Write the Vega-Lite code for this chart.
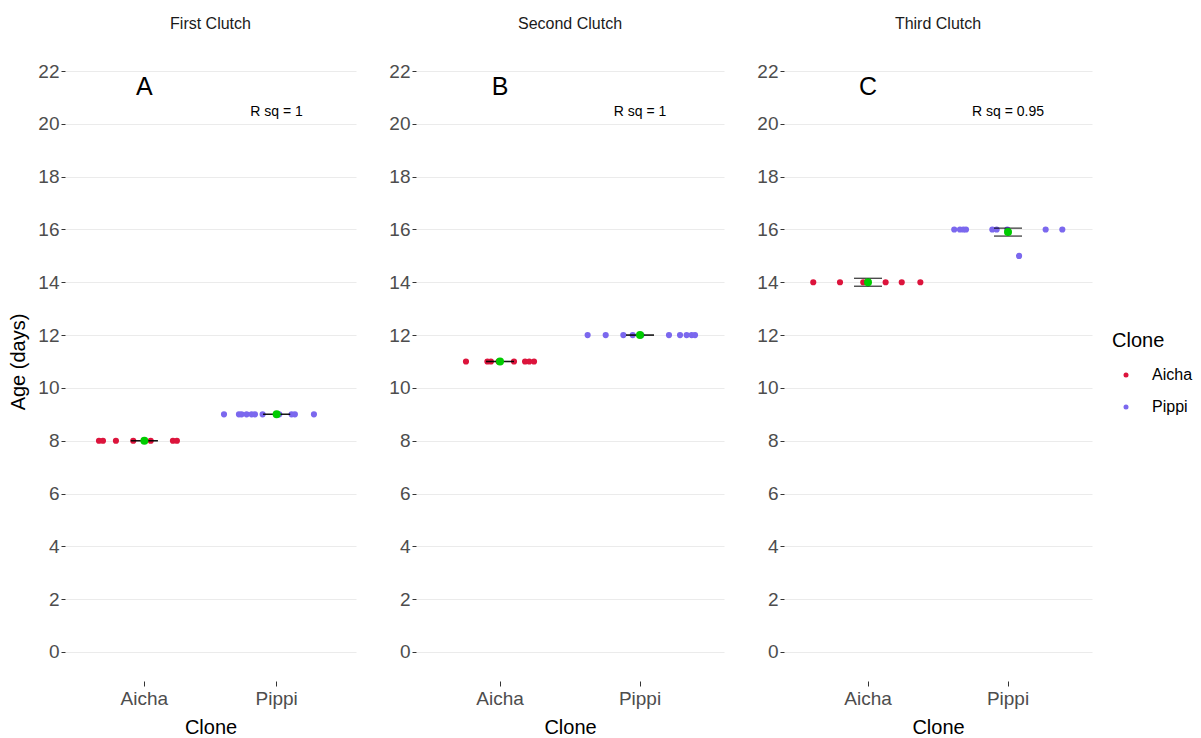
{
  "$schema": "https://vega.github.io/schema/vega-lite/v6.json",
  "padding": {"left": 8, "top": 16, "right": 0, "bottom": 0},
  "background": "white",
  "config": {
    "font": "Liberation Sans",
    "view": {"stroke": null},
    "concat": {"spacing": 32},
    "axisY": {
      "values": [-1,0,1,2,3,4,5,6,7,8,9,10,11,12,13,14,15,16,17,18,19,20,21,22,23],
      "labelExpr": "datum.value % 2 === 0 && datum.value >= 0 ? datum.label : ''",
      "domain": false,
      "grid": true,
      "gridColor": "#EBEBEB",
      "gridWidth": {"condition": {"test": "datum.value % 2 !== 0", "value": 0.7}, "value": 1.1},
      "tickOpacity": {"condition": {"test": "datum.value % 2 !== 0", "value": 0}, "value": 1},
      "tickColor": "#333333",
      "tickSize": 4,
      "labelPadding": 2,
      "labelFontSize": 19,
      "labelColor": "#4D4D4D",
      "labelFont": "Liberation Sans",
      "titleFontSize": 20,
      "titleFontWeight": "normal",
      "titleColor": "#000000",
      "titleFont": "Liberation Sans",
      "titlePadding": 9
    },
    "axisX": {
      "domain": false,
      "grid": false,
      "tickColor": "#333333",
      "tickSize": 5,
      "labelPadding": 3,
      "labelFontSize": 19,
      "labelColor": "#4D4D4D",
      "labelFont": "Liberation Sans",
      "labelAngle": 0,
      "titleFontSize": 20,
      "titleFontWeight": "normal",
      "titleColor": "#000000",
      "titleFont": "Liberation Sans",
      "titlePadding": 9
    },
    "title": {"fontSize": 16, "fontWeight": "normal", "color": "#1A1A1A", "font": "Liberation Sans", "offset": 10}
  },
  "datasets": {
    "pts": [
      {"Clutch": "First Clutch", "Clone": "Aicha", "Age": 8, "jitter": -0.343},
      {"Clutch": "First Clutch", "Clone": "Aicha", "Age": 8, "jitter": -0.313},
      {"Clutch": "First Clutch", "Clone": "Aicha", "Age": 8, "jitter": -0.215},
      {"Clutch": "First Clutch", "Clone": "Aicha", "Age": 8, "jitter": -0.084},
      {"Clutch": "First Clutch", "Clone": "Aicha", "Age": 8, "jitter": 0.0},
      {"Clutch": "First Clutch", "Clone": "Aicha", "Age": 8, "jitter": 0.048},
      {"Clutch": "First Clutch", "Clone": "Aicha", "Age": 8, "jitter": 0.216},
      {"Clutch": "First Clutch", "Clone": "Aicha", "Age": 8, "jitter": 0.246},
      {"Clutch": "First Clutch", "Clone": "Pippi", "Age": 9, "jitter": -0.398},
      {"Clutch": "First Clutch", "Clone": "Pippi", "Age": 9, "jitter": -0.285},
      {"Clutch": "First Clutch", "Clone": "Pippi", "Age": 9, "jitter": -0.265},
      {"Clutch": "First Clutch", "Clone": "Pippi", "Age": 9, "jitter": -0.227},
      {"Clutch": "First Clutch", "Clone": "Pippi", "Age": 9, "jitter": -0.189},
      {"Clutch": "First Clutch", "Clone": "Pippi", "Age": 9, "jitter": -0.164},
      {"Clutch": "First Clutch", "Clone": "Pippi", "Age": 9, "jitter": -0.106},
      {"Clutch": "First Clutch", "Clone": "Pippi", "Age": 9, "jitter": 0.02},
      {"Clutch": "First Clutch", "Clone": "Pippi", "Age": 9, "jitter": 0.113},
      {"Clutch": "First Clutch", "Clone": "Pippi", "Age": 9, "jitter": 0.138},
      {"Clutch": "First Clutch", "Clone": "Pippi", "Age": 9, "jitter": 0.282},
      {"Clutch": "Second Clutch", "Clone": "Aicha", "Age": 11, "jitter": -0.243},
      {"Clutch": "Second Clutch", "Clone": "Aicha", "Age": 11, "jitter": -0.09},
      {"Clutch": "Second Clutch", "Clone": "Aicha", "Age": 11, "jitter": -0.065},
      {"Clutch": "Second Clutch", "Clone": "Aicha", "Age": 11, "jitter": -0.01},
      {"Clutch": "Second Clutch", "Clone": "Aicha", "Age": 11, "jitter": 0.1},
      {"Clutch": "Second Clutch", "Clone": "Aicha", "Age": 11, "jitter": 0.179},
      {"Clutch": "Second Clutch", "Clone": "Aicha", "Age": 11, "jitter": 0.209},
      {"Clutch": "Second Clutch", "Clone": "Aicha", "Age": 11, "jitter": 0.243},
      {"Clutch": "Second Clutch", "Clone": "Pippi", "Age": 12, "jitter": -0.374},
      {"Clutch": "Second Clutch", "Clone": "Pippi", "Age": 12, "jitter": -0.245},
      {"Clutch": "Second Clutch", "Clone": "Pippi", "Age": 12, "jitter": -0.119},
      {"Clutch": "Second Clutch", "Clone": "Pippi", "Age": 12, "jitter": -0.052},
      {"Clutch": "Second Clutch", "Clone": "Pippi", "Age": 12, "jitter": 0.01},
      {"Clutch": "Second Clutch", "Clone": "Pippi", "Age": 12, "jitter": 0.207},
      {"Clutch": "Second Clutch", "Clone": "Pippi", "Age": 12, "jitter": 0.286},
      {"Clutch": "Second Clutch", "Clone": "Pippi", "Age": 12, "jitter": 0.333},
      {"Clutch": "Second Clutch", "Clone": "Pippi", "Age": 12, "jitter": 0.369},
      {"Clutch": "Second Clutch", "Clone": "Pippi", "Age": 12, "jitter": 0.393},
      {"Clutch": "Third Clutch", "Clone": "Aicha", "Age": 14, "jitter": -0.391},
      {"Clutch": "Third Clutch", "Clone": "Aicha", "Age": 14, "jitter": -0.2},
      {"Clutch": "Third Clutch", "Clone": "Aicha", "Age": 14, "jitter": -0.034},
      {"Clutch": "Third Clutch", "Clone": "Aicha", "Age": 14, "jitter": 0.0},
      {"Clutch": "Third Clutch", "Clone": "Aicha", "Age": 14, "jitter": 0.126},
      {"Clutch": "Third Clutch", "Clone": "Aicha", "Age": 14, "jitter": 0.241},
      {"Clutch": "Third Clutch", "Clone": "Aicha", "Age": 14, "jitter": 0.374},
      {"Clutch": "Third Clutch", "Clone": "Pippi", "Age": 16, "jitter": -0.384},
      {"Clutch": "Third Clutch", "Clone": "Pippi", "Age": 16, "jitter": -0.343},
      {"Clutch": "Third Clutch", "Clone": "Pippi", "Age": 16, "jitter": -0.319},
      {"Clutch": "Third Clutch", "Clone": "Pippi", "Age": 16, "jitter": -0.3},
      {"Clutch": "Third Clutch", "Clone": "Pippi", "Age": 16, "jitter": -0.112},
      {"Clutch": "Third Clutch", "Clone": "Pippi", "Age": 16, "jitter": -0.081},
      {"Clutch": "Third Clutch", "Clone": "Pippi", "Age": 16, "jitter": -0.005},
      {"Clutch": "Third Clutch", "Clone": "Pippi", "Age": 15, "jitter": 0.079},
      {"Clutch": "Third Clutch", "Clone": "Pippi", "Age": 16, "jitter": 0.269},
      {"Clutch": "Third Clutch", "Clone": "Pippi", "Age": 16, "jitter": 0.388}
    ],
    "means": [
      {"Clutch": "First Clutch", "Clone": "Aicha", "mean": 8, "lower": 8, "upper": 8},
      {"Clutch": "First Clutch", "Clone": "Pippi", "mean": 9, "lower": 9, "upper": 9},
      {"Clutch": "Second Clutch", "Clone": "Aicha", "mean": 11, "lower": 11, "upper": 11},
      {"Clutch": "Second Clutch", "Clone": "Pippi", "mean": 12, "lower": 12, "upper": 12},
      {"Clutch": "Third Clutch", "Clone": "Aicha", "mean": 14, "lower": 13.85, "upper": 14.15},
      {"Clutch": "Third Clutch", "Clone": "Pippi", "mean": 15.9, "lower": 15.75, "upper": 16.05}
    ],
    "ann": [
      {"Clutch": "First Clutch", "Clone": "Aicha", "y": 21.4, "label": "A", "kind": "letter"},
      {"Clutch": "First Clutch", "Clone": "Pippi", "y": 20.45, "label": "R sq = 1", "kind": "rsq"},
      {"Clutch": "Second Clutch", "Clone": "Aicha", "y": 21.4, "label": "B", "kind": "letter"},
      {"Clutch": "Second Clutch", "Clone": "Pippi", "y": 20.45, "label": "R sq = 1", "kind": "rsq"},
      {"Clutch": "Third Clutch", "Clone": "Aicha", "y": 21.4, "label": "C", "kind": "letter"},
      {"Clutch": "Third Clutch", "Clone": "Pippi", "y": 20.45, "label": "R sq = 0.95", "kind": "rsq"}
    ]
  },
  "resolve": {"scale": {"x": "independent", "y": "independent", "xOffset": "independent"}},
  "hconcat": [
    {
      "title": "First Clutch",
      "width": 291,
      "height": 639,
      "layer": [
        {
          "data": {"name": "pts"},
          "transform": [{"filter": "datum.Clutch === 'First Clutch'"}],
          "mark": {"type": "circle", "size": 38, "opacity": 1},
          "encoding": {
            "x": {"field": "Clone", "type": "nominal", "title": "Clone", "scale": {"domain": ["Aicha", "Pippi"], "paddingInner": 0, "paddingOuter": 0.1}},
            "xOffset": {"field": "jitter", "type": "quantitative", "scale": {"domain": [-0.5, 0.5]}},
            "y": {"field": "Age", "type": "quantitative", "title": "Age (days)", "scale": {"domain": [-1.1, 23.1], "nice": false, "zero": false}},
            "color": {"field": "Clone", "type": "nominal", "scale": {"domain": ["Aicha", "Pippi"], "range": ["#DC143C", "#7B68EE"]},
              "legend": {"title": "Clone", "orient": "none", "legendX": 1047, "legendY": 289, "titleFontSize": 20, "titleFontWeight": "normal", "titleColor": "#000000", "labelFontSize": 16, "labelColor": "#000000", "symbolSize": 25, "symbolType": "circle", "symbolOffset": 6, "rowPadding": 16, "titlePadding": 16, "labelOffset": 18}}
          }
        },
        {
          "data": {"name": "means"},
          "transform": [{"filter": "datum.Clutch === 'First Clutch'"}],
          "mark": {"type": "rule", "color": "#000000", "strokeWidth": 1.4},
          "encoding": {"x": {"field": "Clone", "type": "nominal"}, "y": {"field": "lower", "type": "quantitative"}, "y2": {"field": "upper"}}
        },
        {
          "data": {"name": "means"},
          "transform": [{"filter": "datum.Clutch === 'First Clutch'"}],
          "mark": {"type": "tick", "color": "#000000", "size": 27, "thickness": 1.4},
          "encoding": {"x": {"field": "Clone", "type": "nominal"}, "y": {"field": "lower", "type": "quantitative"}}
        },
        {
          "data": {"name": "means"},
          "transform": [{"filter": "datum.Clutch === 'First Clutch'"}],
          "mark": {"type": "tick", "color": "#000000", "size": 27, "thickness": 1.4},
          "encoding": {"x": {"field": "Clone", "type": "nominal"}, "y": {"field": "upper", "type": "quantitative"}}
        },
        {
          "data": {"name": "means"},
          "transform": [{"filter": "datum.Clutch === 'First Clutch'"}],
          "mark": {"type": "circle", "size": 64, "opacity": 1, "color": "#00CC00"},
          "encoding": {"x": {"field": "Clone", "type": "nominal"}, "y": {"field": "mean", "type": "quantitative"}}
        },
        {
          "data": {"name": "ann"},
          "transform": [{"filter": "datum.Clutch === 'First Clutch' && datum.kind === 'letter'"}],
          "mark": {"type": "text", "fontSize": 25, "color": "#000000", "baseline": "middle"},
          "encoding": {"x": {"field": "Clone", "type": "nominal"}, "y": {"field": "y", "type": "quantitative"}, "text": {"field": "label"}}
        },
        {
          "data": {"name": "ann"},
          "transform": [{"filter": "datum.Clutch === 'First Clutch' && datum.kind === 'rsq'"}],
          "mark": {"type": "text", "fontSize": 14, "color": "#000000", "baseline": "middle"},
          "encoding": {"x": {"field": "Clone", "type": "nominal"}, "y": {"field": "y", "type": "quantitative"}, "text": {"field": "label"}}
        }
      ]
    },
    {
      "title": "Second Clutch",
      "width": 308,
      "height": 639,
      "layer": [
        {
          "data": {"name": "pts"},
          "transform": [{"filter": "datum.Clutch === 'Second Clutch'"}],
          "mark": {"type": "circle", "size": 38, "opacity": 1},
          "encoding": {
            "x": {"field": "Clone", "type": "nominal", "title": "Clone", "scale": {"domain": ["Aicha", "Pippi"], "paddingInner": 0, "paddingOuter": 0.1}},
            "xOffset": {"field": "jitter", "type": "quantitative", "scale": {"domain": [-0.5, 0.5]}},
            "y": {"field": "Age", "type": "quantitative", "title": null, "scale": {"domain": [-1.1, 23.1], "nice": false, "zero": false}},
            "color": {"field": "Clone", "type": "nominal", "scale": {"domain": ["Aicha", "Pippi"], "range": ["#DC143C", "#7B68EE"]}}
          }
        },
        {
          "data": {"name": "means"},
          "transform": [{"filter": "datum.Clutch === 'Second Clutch'"}],
          "mark": {"type": "rule", "color": "#000000", "strokeWidth": 1.4},
          "encoding": {"x": {"field": "Clone", "type": "nominal"}, "y": {"field": "lower", "type": "quantitative"}, "y2": {"field": "upper"}}
        },
        {
          "data": {"name": "means"},
          "transform": [{"filter": "datum.Clutch === 'Second Clutch'"}],
          "mark": {"type": "tick", "color": "#000000", "size": 28, "thickness": 1.4},
          "encoding": {"x": {"field": "Clone", "type": "nominal"}, "y": {"field": "lower", "type": "quantitative"}}
        },
        {
          "data": {"name": "means"},
          "transform": [{"filter": "datum.Clutch === 'Second Clutch'"}],
          "mark": {"type": "tick", "color": "#000000", "size": 28, "thickness": 1.4},
          "encoding": {"x": {"field": "Clone", "type": "nominal"}, "y": {"field": "upper", "type": "quantitative"}}
        },
        {
          "data": {"name": "means"},
          "transform": [{"filter": "datum.Clutch === 'Second Clutch'"}],
          "mark": {"type": "circle", "size": 64, "opacity": 1, "color": "#00CC00"},
          "encoding": {"x": {"field": "Clone", "type": "nominal"}, "y": {"field": "mean", "type": "quantitative"}}
        },
        {
          "data": {"name": "ann"},
          "transform": [{"filter": "datum.Clutch === 'Second Clutch' && datum.kind === 'letter'"}],
          "mark": {"type": "text", "fontSize": 25, "color": "#000000", "baseline": "middle"},
          "encoding": {"x": {"field": "Clone", "type": "nominal"}, "y": {"field": "y", "type": "quantitative"}, "text": {"field": "label"}}
        },
        {
          "data": {"name": "ann"},
          "transform": [{"filter": "datum.Clutch === 'Second Clutch' && datum.kind === 'rsq'"}],
          "mark": {"type": "text", "fontSize": 14, "color": "#000000", "baseline": "middle"},
          "encoding": {"x": {"field": "Clone", "type": "nominal"}, "y": {"field": "y", "type": "quantitative"}, "text": {"field": "label"}}
        }
      ]
    },
    {
      "title": "Third Clutch",
      "width": 308,
      "height": 639,
      "layer": [
        {
          "data": {"name": "pts"},
          "transform": [{"filter": "datum.Clutch === 'Third Clutch'"}],
          "mark": {"type": "circle", "size": 38, "opacity": 1},
          "encoding": {
            "x": {"field": "Clone", "type": "nominal", "title": "Clone", "scale": {"domain": ["Aicha", "Pippi"], "paddingInner": 0, "paddingOuter": 0.1}},
            "xOffset": {"field": "jitter", "type": "quantitative", "scale": {"domain": [-0.5, 0.5]}},
            "y": {"field": "Age", "type": "quantitative", "title": null, "scale": {"domain": [-1.1, 23.1], "nice": false, "zero": false}},
            "color": {"field": "Clone", "type": "nominal", "scale": {"domain": ["Aicha", "Pippi"], "range": ["#DC143C", "#7B68EE"]}}
          }
        },
        {
          "data": {"name": "means"},
          "transform": [{"filter": "datum.Clutch === 'Third Clutch'"}],
          "mark": {"type": "rule", "color": "#000000", "strokeWidth": 1.4},
          "encoding": {"x": {"field": "Clone", "type": "nominal"}, "y": {"field": "lower", "type": "quantitative"}, "y2": {"field": "upper"}}
        },
        {
          "data": {"name": "means"},
          "transform": [{"filter": "datum.Clutch === 'Third Clutch'"}],
          "mark": {"type": "tick", "color": "#000000", "size": 28, "thickness": 1.4},
          "encoding": {"x": {"field": "Clone", "type": "nominal"}, "y": {"field": "lower", "type": "quantitative"}}
        },
        {
          "data": {"name": "means"},
          "transform": [{"filter": "datum.Clutch === 'Third Clutch'"}],
          "mark": {"type": "tick", "color": "#000000", "size": 28, "thickness": 1.4},
          "encoding": {"x": {"field": "Clone", "type": "nominal"}, "y": {"field": "upper", "type": "quantitative"}}
        },
        {
          "data": {"name": "means"},
          "transform": [{"filter": "datum.Clutch === 'Third Clutch'"}],
          "mark": {"type": "circle", "size": 64, "opacity": 1, "color": "#00CC00"},
          "encoding": {"x": {"field": "Clone", "type": "nominal"}, "y": {"field": "mean", "type": "quantitative"}}
        },
        {
          "data": {"name": "ann"},
          "transform": [{"filter": "datum.Clutch === 'Third Clutch' && datum.kind === 'letter'"}],
          "mark": {"type": "text", "fontSize": 25, "color": "#000000", "baseline": "middle"},
          "encoding": {"x": {"field": "Clone", "type": "nominal"}, "y": {"field": "y", "type": "quantitative"}, "text": {"field": "label"}}
        },
        {
          "data": {"name": "ann"},
          "transform": [{"filter": "datum.Clutch === 'Third Clutch' && datum.kind === 'rsq'"}],
          "mark": {"type": "text", "fontSize": 14, "color": "#000000", "baseline": "middle"},
          "encoding": {"x": {"field": "Clone", "type": "nominal"}, "y": {"field": "y", "type": "quantitative"}, "text": {"field": "label"}}
        }
      ]
    }
  ]
}
